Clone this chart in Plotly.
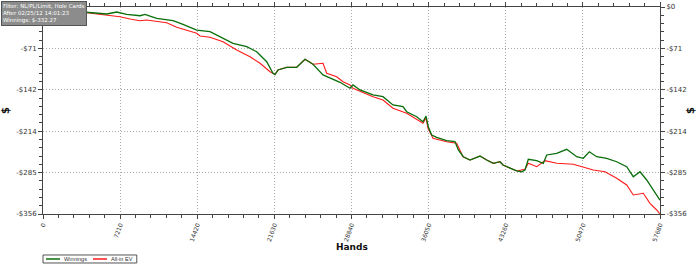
import plotly.graph_objects as go

# Hands / dollars for Winnings (green)
win_hands = [0, 654, 1589, 2524, 4085, 5048, 5955, 6890, 7825, 9068, 9535, 10629,
             12153, 13088, 14369, 15612, 16827, 17762, 19043, 19978, 20913, 21502,
             21688, 21969, 22782, 23717, 24493, 25241, 26176, 26830, 27765, 28700,
             28980, 29635, 30850, 31785, 32720, 33655, 34001, 34935, 35524, 35805,
             36020, 36337, 36805, 37740, 38516, 38825, 39292, 39918, 40853, 41479,
             42096, 42723, 43003, 44284, 44751, 45060, 45368, 46153, 46770, 47088,
             48023, 48958, 49893, 50510, 51071, 51762, 52697, 53632, 54567, 55184,
             55810, 56437, 57054, 57521, 57680]
win_vals = [0, -3.4, -5.2, -6.9, -8.6, -10.3, -12.0, -8.6, -12.6, -15.0, -12.6, -19.4,
            -23.6, -29.8, -39.6, -42.5, -53.3, -62.4, -68.3, -76.9, -94.1, -114.0,
            -116.1, -108.3, -103.7, -103.7, -89.9, -98.5, -116.9, -122.6, -129.5, -139.8,
            -134.1, -142.7, -151.3, -154.3, -168.5, -171.5, -180.1, -188.7, -197.3, -187.5,
            -205.9, -220.1, -224.1, -229.9, -231.7, -245.9, -257.5, -263.1, -256.3, -263.1,
            -268.8, -266.1, -271.7, -282.0, -283.3, -280.3, -261.9, -264.3, -268.8, -254.5,
            -251.6, -244.7, -257.5, -260.2, -248.9, -257.5, -260.2, -266.1, -274.7, -291.9,
            -283.3, -297.5, -314.7, -329.0, -332.27]

# All-in EV (red)
ev_hands = [0, 654, 1589, 2524, 4085, 5955, 7198, 8133, 9068, 9694, 11564, 12499,
            13088, 14369, 14677, 15612, 16827, 18108, 19351, 20286, 21221, 21688,
            21969, 22782, 23717, 24493, 25241, 26176, 26521, 27456, 28045, 28700,
            28980, 30850, 31785, 32720, 34001, 35524, 35805, 35992, 36459, 37740,
            38675, 39264, 39918, 40853, 41479, 42096, 42723, 43003, 44284, 45060,
            45368, 46153, 46929, 48023, 49575, 50828, 51445, 52539, 53632, 54567,
            55184, 56119, 56745, 57371, 57680]
ev_vals = [0, -3.4, -5.2, -7.5, -9.8, -14.3, -16.7, -20.6, -23.6, -22.4, -27.0, -34.9,
           -38.4, -45.2, -49.9, -52.1, -59.7, -74.0, -85.5, -96.8, -111.3, -115.7,
           -108.3, -103.7, -103.7, -89.9, -98.5, -96.8, -114.0, -119.9, -128.5, -134.1,
           -139.8, -154.3, -159.9, -174.2, -182.8, -200.0, -190.9, -208.6, -225.8, -231.7,
           -234.4, -257.5, -263.1, -256.3, -263.1, -268.8, -266.1, -271.7, -282.0, -279.1,
           -268.8, -274.7, -264.3, -268.8, -270.5, -277.4, -280.3, -283.3, -294.6, -306.1,
           -323.3, -320.4, -337.6, -349.1, -356.0]

x_ticks = [0, 7210, 14420, 21630, 28840, 36050, 43260, 50470, 57680]
y_ticks = [0, -71.2, -142.4, -213.6, -284.8, -356]
y_labels = ["$0", "-$71", "-$142", "-$214", "-$285", "-$356"]
# left "$0" is hidden behind the filter box in the original
y_labels_left = [""] + y_labels[1:]

series_names = ["Winnings", "All-in EV"]
series_colors = ["#0a6e0a", "#ff1a1a"]

FONT = "DejaVu Sans"
fig = go.Figure()
fig.add_trace(go.Scatter(x=ev_hands, y=ev_vals, mode="lines", name=series_names[1],
                         line=dict(color=series_colors[1], width=1.1), yaxis="y",
                         showlegend=False))
fig.add_trace(go.Scatter(x=win_hands, y=win_vals, mode="lines", name=series_names[0],
                         line=dict(color=series_colors[0], width=1.3), yaxis="y2",
                         showlegend=False))

def axis_common(fs=7):
    return dict(showline=True, linecolor="#444", linewidth=1, zeroline=False,
                ticks="outside", ticklen=4, tickcolor="#444", automargin=False,
                tickfont=dict(family=FONT, size=fs, color="#333"))

GRID = dict(showgrid=True, gridcolor="#aaaaaa", griddash="1px,2px", gridwidth=1)

# legend drawn as a small boxed key below the plot (paper coordinates)
leg_y = -0.2174
shapes = [dict(type="rect", xref="paper", yref="paper", x0=0, x1=0.152, y0=-0.2367, y1=-0.198,
               line=dict(color="#555", width=1), fillcolor="white", layer="above")]
leg_annots = []
leg_x = [(0.0049, 0.0276, 0.0308), (0.0810, 0.1037, 0.1069)]
for (a, b, t), nm, col in zip(leg_x, series_names, series_colors):
    shapes.append(dict(type="line", xref="paper", yref="paper", x0=a, x1=b, y0=leg_y, y1=leg_y,
                       line=dict(color=col, width=1.5)))
    leg_annots.append(dict(xref="paper", yref="paper", x=t, y=leg_y, xanchor="left",
                           yanchor="middle", showarrow=False, text=nm,
                           font=dict(family="Liberation Sans", size=5.6, color="#333")))

fig.update_layout(
    width=700, height=266,
    margin=dict(l=43, r=40, t=7, b=52),
    paper_bgcolor="white", plot_bgcolor="white",
    font=dict(family=FONT, size=7, color="#333"),
    showlegend=False,
    xaxis=dict(range=[0, 57680], tickvals=x_ticks, ticktext=[str(v) for v in x_ticks],
               tickangle=-70, mirror="ticks",
               minor=dict(dtick=1442, tick0=0, ticks="outside", ticklen=3, tickcolor="#444"),
               **GRID, **axis_common(6)),
    yaxis=dict(range=[-356, 0], tickvals=y_ticks, ticktext=y_labels_left,
               minor=dict(dtick=14.24, tick0=0, ticks="outside", ticklen=3, tickcolor="#444"),
               title=dict(text="<b>$</b>", font=dict(family=FONT, size=10, color="#111"),
                          standoff=9),
               **GRID, **axis_common()),
    yaxis2=dict(range=[-356, 0], tickvals=y_ticks, ticktext=y_labels, overlaying="y",
                side="right", showgrid=False,
                minor=dict(dtick=14.24, tick0=0, ticks="outside", ticklen=3, tickcolor="#444"),
                title=dict(text="<b>$</b>", font=dict(family=FONT, size=10, color="#111"),
                           standoff=0),
                **axis_common()),
    shapes=shapes,
    annotations=[dict(xref="paper", yref="paper", x=-0.068, y=1.03, xanchor="left",
                      yanchor="top", showarrow=False, align="left",
                      text="Filter: NL/PL/Limit, Hole Cards<br>After 02/25/12 14:01:23<br>Winnings: $-332.27",
                      font=dict(family=FONT, size=5.5, color="white"),
                      bgcolor="#8c8c8c", bordercolor="#555", borderwidth=1, borderpad=1),
                 dict(xref="paper", yref="paper", x=0.5, y=-0.16, xanchor="center",
                      yanchor="middle", showarrow=False, text="<b>Hands</b>",
                      font=dict(family=FONT, size=9, color="#111"))]
                + leg_annots,
)

fig.write_html("out.html")
